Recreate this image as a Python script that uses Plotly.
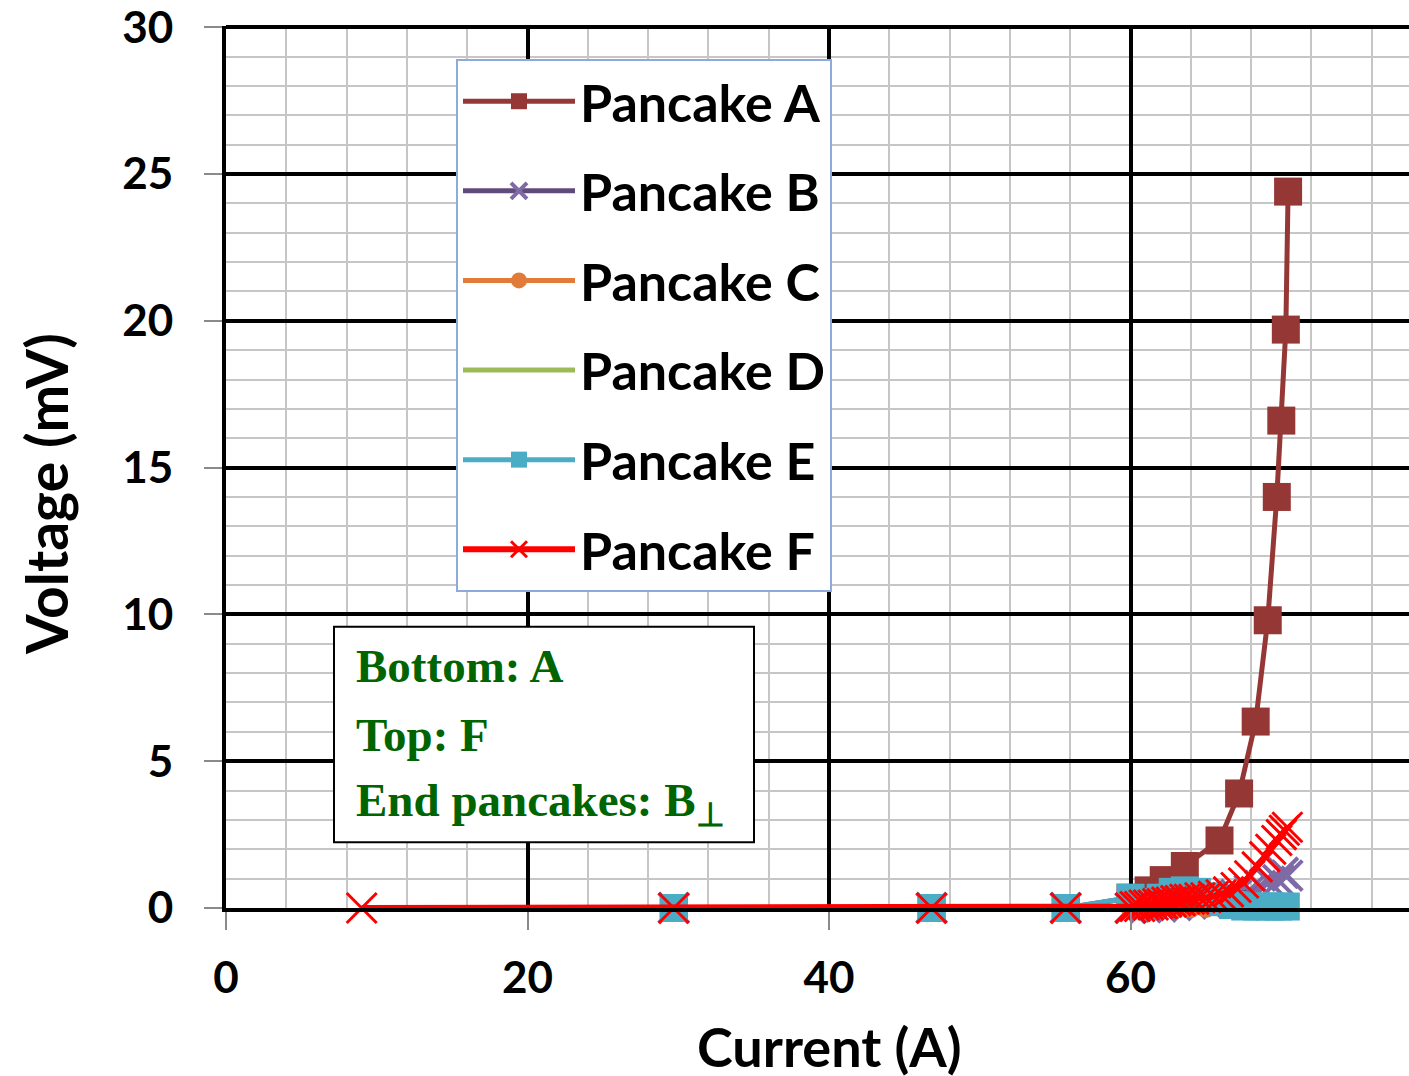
import plotly.graph_objects as go

# ---------------- data ----------------
current_A = [29.7, 46.8, 55.7, 60.0, 61.2, 62.2, 63.6, 65.9, 67.2, 68.3, 69.1, 69.7, 70.0, 70.3, 70.45]
voltage_A = [0.0, 0.0, 0.0, 0.35, 0.6, 0.95, 1.43, 2.3, 3.9, 6.35, 9.8, 14.0, 16.6, 19.7, 24.4]

current_B = [29.7, 46.8, 55.7, 60.0, 61.0, 62.0, 63.0, 64.0, 65.0, 66.0, 67.0, 67.9, 68.6, 69.2, 69.8, 70.1, 70.4]
voltage_B = [0.0, 0.0, 0.0, 0.0, 0.02, 0.05, 0.1, 0.15, 0.2, 0.3, 0.45, 0.6, 0.75, 0.9, 0.95, 1.2, 1.1]

current_C = [29.7, 46.8, 55.7, 60.0, 61.0, 62.0, 63.0, 64.0, 65.0, 66.0, 67.0, 68.0, 69.0, 70.0, 70.4]
voltage_C = [0.0, 0.0, 0.0, 0.0, 0.0, 0.0, 0.0, 0.0, 0.0, -0.05, -0.05, -0.1, -0.1, -0.1, -0.1]

current_D = [29.7, 46.8, 55.7, 60.0, 62.0, 64.0, 66.0, 68.0, 70.0, 70.4]
voltage_D = [0.0, 0.0, 0.0, 0.0, 0.0, 0.0, 0.0, 0.0, 0.0, 0.0]

current_E = [29.7, 46.8, 55.7, 60.0, 60.5, 61.2, 62.0, 62.8, 63.6, 64.4, 65.2, 66.0, 66.8, 67.6, 68.4, 69.2, 69.8, 70.3]
voltage_E = [0.0, 0.0, 0.0, 0.35, 0.15, 0.2, 0.35, 0.55, 0.6, 0.55, 0.4, 0.2, 0.1, 0.05, 0.05, 0.05, 0.05, 0.05]

current_F = [9.0, 29.7, 46.8, 55.7, 60.0, 60.3, 60.6, 60.9, 61.2, 61.5, 61.8, 62.1, 62.4, 62.7, 63.0, 63.3,
             63.6, 63.9, 64.2, 64.6, 65.0, 65.5, 66.0, 66.5, 67.0, 67.5, 67.9, 68.4, 68.9, 69.3, 69.7,
             70.0, 70.2, 70.4]
voltage_F = [0.0, 0.0, 0.0, 0.0, 0.0, 0.05, 0.05, 0.1, 0.1, 0.1, 0.15, 0.15, 0.2, 0.2, 0.25, 0.25,
             0.3, 0.3, 0.3, 0.35, 0.35, 0.4, 0.45, 0.55, 0.7, 0.85, 1.1, 1.4, 1.75, 2.0, 2.3,
             2.5, 2.65, 2.75]

x_ticks = [0, 20, 40, 60, 80]
y_ticks = [0, 5, 10, 15, 20, 25, 30]

note_lines = ["Bottom: A", "Top: F", "End pancakes: B<sub>⊥</sub>"]

# ---------------- figure ----------------
fig = go.Figure()

series = [
    ("Pancake A", current_A, voltage_A, "#953735", dict(symbol="square", size=28, color="#953735"), 5),
    ("Pancake B", current_B, voltage_B, "#604A7B",
     dict(symbol="x-thin-open", size=30, color="#7E6AA5", line=dict(width=4, color="#7E6AA5")), 5),
    ("Pancake C", current_C, voltage_C, "#E07B39", dict(symbol="circle", size=20, color="#E07B39"), 5),
    ("Pancake D", current_D, voltage_D, "#9BBB59", None, 5),
    ("Pancake E", current_E, voltage_E, "#4BACC6", dict(symbol="square", size=28, color="#4BACC6"), 5),
    ("Pancake F", current_F, voltage_F, "#FF0000",
     dict(symbol="x-thin-open", size=30, color="#FF0000", line=dict(width=3, color="#FF0000")), 6),
]

for name, xs, ys, col, mk, lw in series:
    kw = dict(x=xs, y=ys, name=name, legendgroup=name,
              line=dict(color=col, width=lw), cliponaxis=False)
    if mk is None:
        kw["mode"] = "lines"
    else:
        kw["mode"] = "lines+markers"
        kw["marker"] = mk
    fig.add_trace(go.Scatter(**kw))

tick_font = dict(family="Lato", size=44, color="black", weight="bold")

fig.update_layout(
    width=1409,
    height=1076,
    margin=dict(l=226, r=0, t=24, b=168),
    paper_bgcolor="white",
    plot_bgcolor="white",
    showlegend=True,
    legend=dict(
        x=(456 - 226) / 1183, y=(908 - 57) / 884,
        xanchor="left", yanchor="top",
        bgcolor="white", bordercolor="#8EAADB", borderwidth=2,
        font=dict(family="Lato", size=52, color="black", weight="bold"),
        tracegroupgap=19, itemwidth=112, itemsizing="trace",
    ),
    xaxis=dict(
        range=[0, 78.47],
        tickvals=x_ticks, ticktext=[str(v) for v in x_ticks],
        showgrid=True, gridcolor="black", gridwidth=4,
        minor=dict(dtick=4, tick0=0, showgrid=True, gridcolor="#C6C6C6", gridwidth=2),
        ticks="outside", ticklen=18, tickwidth=2, tickcolor="#8A8A8A",
        ticklabelstandoff=10, ticklabeloverflow="allow",
        showline=True, linecolor="black", linewidth=4,
        zeroline=False,
        tickfont=tick_font,
    ),
    yaxis=dict(
        range=[0, 30.04],
        tickvals=y_ticks, ticktext=[str(v) for v in y_ticks],
        showgrid=True, gridcolor="black", gridwidth=4,
        minor=dict(dtick=1, tick0=0, showgrid=True, gridcolor="#C6C6C6", gridwidth=2),
        ticks="outside", ticklen=18, tickwidth=2, tickcolor="#8A8A8A",
        ticklabelstandoff=22, ticklabeloverflow="allow",
        showline=True, linecolor="black", linewidth=4,
        zeroline=False,
        tickfont=tick_font,
    ),
)

# axis titles
fig.add_annotation(text="Current (A)", xref="x", x=40, yref="paper", y=0,
                   xanchor="center", yanchor="top", yshift=-104, showarrow=False,
                   font=dict(family="Lato", size=54, color="black", weight="bold"))
fig.add_annotation(text="Voltage (mV)", xref="paper", x=0, yref="y", y=14.1,
                   xanchor="center", yanchor="middle", xshift=-180, textangle=-90,
                   showarrow=False,
                   font=dict(family="Lato", size=57, color="black", weight="bold"))

# note box
fig.add_shape(type="rect", xref="paper", yref="paper",
              x0=(334 - 226) / 1183, x1=(754 - 226) / 1183,
              y0=(908 - 842) / 884, y1=(908 - 626) / 884,
              fillcolor="white", line=dict(color="black", width=2), layer="above")
for txt, ypix in zip(note_lines, [665, 735, 803]):
    fig.add_annotation(text=txt, xref="paper", x=(354 - 226) / 1183,
                       yref="paper", y=(908 - ypix) / 884,
                       xanchor="left", yanchor="middle", showarrow=False,
                       font=dict(family="Liberation Serif", size=47, color="#006400", weight="bold"))

fig.write_html("out.html")
